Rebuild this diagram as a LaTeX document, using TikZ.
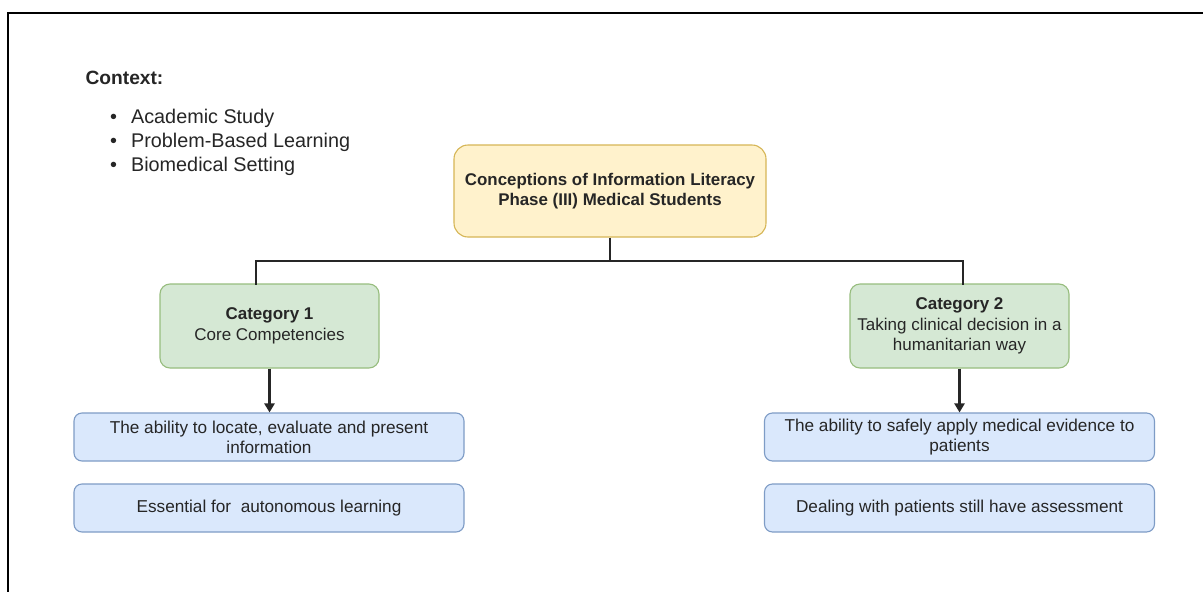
\documentclass[tikz,border=0pt]{standalone}
\usepackage{fontspec}
\setmainfont{Liberation Sans}
\usetikzlibrary{arrows.meta}

\definecolor{ink}{HTML}{262626}
\definecolor{yellowfill}{HTML}{FFF2CC}
\definecolor{yellowline}{HTML}{D6B656}
\definecolor{greenfill}{HTML}{D5E8D4}
\definecolor{greenline}{HTML}{97BD7E}
\definecolor{bluefill}{HTML}{DAE8FC}
\definecolor{blueline}{HTML}{7E9CC6}

\tikzset{
  box/.style={rounded corners=10pt, line width=1.1pt, align=center,
    inner sep=0pt, text=ink},
  rootbox/.style={box, fill=yellowfill, draw=yellowline, rounded corners=14pt,
    minimum width=312pt, minimum height=92pt,
    font=\fontsize{16.9}{20}\selectfont\bfseries},
  catbox/.style={box, fill=greenfill, draw=greenline,
    minimum width=219pt, minimum height=84pt,
    font=\fontsize{17}{20.5}\selectfont},
  itembox/.style={box, fill=bluefill, draw=blueline, rounded corners=8pt,
    minimum width=390pt, minimum height=48pt,
    font=\fontsize{17.2}{20}\selectfont},
  link/.style={draw=ink, line width=2.2pt},
  arrowlink/.style={link, -{Triangle[length=9pt,width=10pt]}},
}

\begin{document}
\begin{tikzpicture}[x=1pt, y=-1pt]
  \useasboundingbox (0,0) rectangle (1203,592);
  \fill[white] (0,0) rectangle (1203,592);

  % outer frame (top and left edges)
  \draw[black, line width=1.5pt] (8,592) -- (8,13) -- (1203,13);

  % context block
  \node[anchor=west, text=ink, font=\fontsize{19.2}{23}\selectfont\bfseries]
    (ctxtitle) at (82,78) {Context:};
  \node[anchor=west, align=left, inner sep=0pt, text=ink,
        font=\fontsize{19.8}{24}\selectfont]
    (ctxlist) at (110,142)
    {\textbullet\hspace{14pt}Academic Study\\
     \textbullet\hspace{14pt}Problem-Based Learning\\
     \textbullet\hspace{14pt}Biomedical Setting};

  % main boxes
  \node[rootbox] (root) at (610,191)
    {Conceptions of Information Literacy\\Phase (III) Medical Students};

  \node[catbox] (cat1) at (269.5,326)
    {\textbf{Category 1}\\Core Competencies};
  \node[catbox] (cat2) at (959.5,326)
    {\textbf{Category 2}\\Taking clinical decision in a\\humanitarian way};

  \node[itembox] (b1) at (269,437)
    {The ability to locate, evaluate and present\\information};
  \node[itembox] (b2) at (269,508)
    {Essential for \ autonomous learning};
  \node[itembox] (b3) at (959.5,437)
    {The ability to safely apply medical evidence to\\patients};
  \node[itembox] (b4) at (959.5,508)
    {Dealing with patients still have assessment};

  % tree connectors
  \coordinate (busL) at (256,261);
  \coordinate (busR) at (963,261);
  \draw[link] (root.south) -- (root.south |- busL);
  \draw[link, line cap=rect] (busL |- cat1.north) -- (busL) -- (busR) -- (busR |- cat2.north);

  \draw[arrowlink] (cat1.south) -- (cat1.south |- b1.north);
  \draw[arrowlink] (cat2.south) -- (cat2.south |- b3.north);
\end{tikzpicture}
\end{document}
